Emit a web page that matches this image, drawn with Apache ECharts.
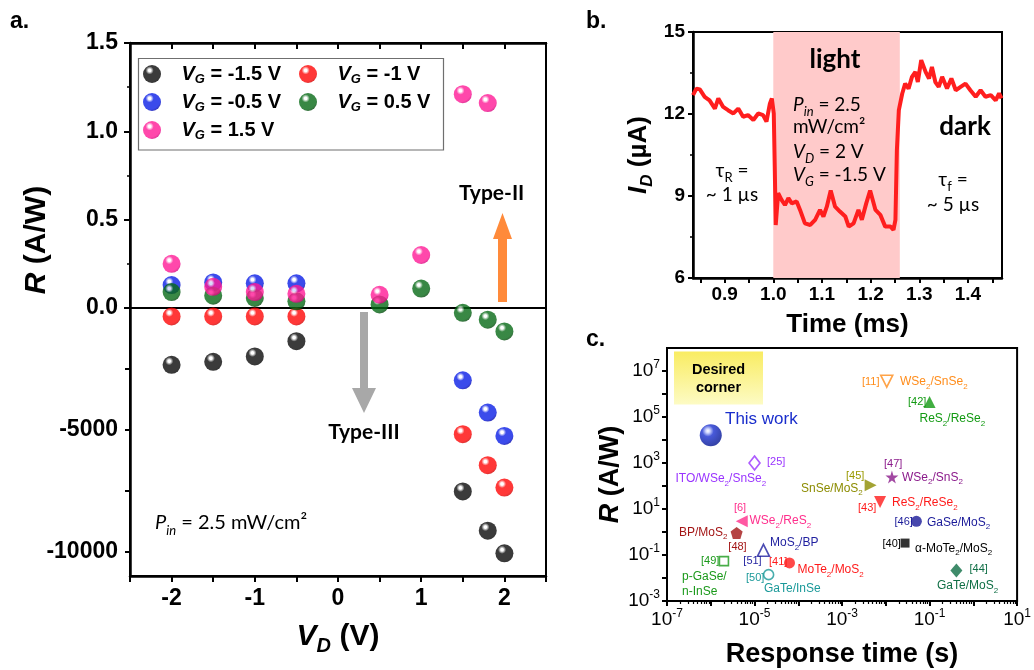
<!DOCTYPE html>
<html>
<head>
<meta charset="utf-8">
<script src="https://cdn.jsdelivr.net/npm/echarts@6/dist/echarts.min.js"></script>
<style>
html, body { margin: 0; padding: 0; background: #fff; }
#main { width: 1034px; height: 670px; }
</style>
</head>
<body>
<div id="main"></div>
<script>
var ARIAL = '"Liberation Sans", Arial, sans-serif'
var CAL = 'Lato, "Open Sans", sans-serif'

// a. responsivity vs drain voltage (upper part in A/W, lower part the large negative values)
var gateNames = ['VG = -1.5 V', 'VG = -1 V', 'VG = -0.5 V', 'VG = 0.5 V', 'VG = 1.5 V']
var upperM15 = []
var upperM10 = []
var upperM05 = [[-2, 0.13], [-1.5, 0.145], [-1, 0.14], [-0.5, 0.14]]
var upperP05 = [[-2, 0.09], [-1.5, 0.07], [-1, 0.057], [-0.5, 0.038], [0.5, 0.02], [1, 0.11]]
var upperP15 = [[-2, 0.25], [-1.5, 0.12], [-1, 0.09], [-0.5, 0.08], [0.5, 0.075], [1, 0.3], [1.5, 1.21], [1.8, 1.16]]
var lowerM15 = [[-2, -2330], [-1.5, -2210], [-1, -1990], [-0.5, -1360], [1.5, -7530], [1.8, -9140], [2, -10070]]
var lowerM10 = [[-2, -345], [-1.5, -345], [-1, -345], [-0.5, -345], [1.5, -5180], [1.8, -6450], [2, -7370]]
var lowerM05 = [[1.5, -2970], [1.8, -4290], [2, -5250]]
var lowerP05 = [[1.5, -200], [1.8, -480], [2, -960]]
var lowerP15 = []
var vdLabels = [-2, -1, 0, 1, 2]
var lowerLabels = [-10000, -5000]

// b. drain current transient
var timeMs = [0.835, 0.842, 0.849, 0.859, 0.869, 0.880, 0.887, 0.897, 0.907, 0.918,
    0.928, 0.938, 0.948, 0.959, 0.969, 0.979, 0.986, 0.993, 0.997, 1.001,
    1.003, 1.005, 1.010, 1.017, 1.024, 1.031, 1.038, 1.048, 1.055, 1.065,
    1.076, 1.086, 1.096, 1.103, 1.110, 1.118, 1.127, 1.137, 1.148, 1.155,
    1.165, 1.175, 1.182, 1.191, 1.199, 1.210, 1.220, 1.230, 1.241, 1.247,
    1.251, 1.254, 1.258, 1.265, 1.271, 1.278, 1.285, 1.292, 1.297, 1.304,
    1.313, 1.320, 1.326, 1.333, 1.340, 1.347, 1.357, 1.366, 1.375, 1.385,
    1.395, 1.405, 1.416, 1.426, 1.436, 1.447, 1.457, 1.464, 1.469]
var currentUA = [12.69, 12.93, 12.9, 12.63, 12.5, 12.2, 12.57, 12.26, 12.14, 12.02,
    12.2, 11.9, 11.96, 11.78, 12.02, 11.96, 11.72, 12.38, 12.57, 12.02,
    10.07, 7.94, 9.1, 8.86, 8.67, 8.92, 8.73, 8.8, 8.49, 8.0,
    7.94, 8.13, 8.49, 8.25, 8.61, 9.2, 8.61, 8.43, 8.25, 7.88,
    8.0, 8.49, 8.13, 8.73, 9.2, 8.49, 8.31, 7.88, 7.88, 7.76,
    8.13, 10.68, 12.14, 12.75, 13.11, 12.93, 13.36, 13.54, 13.17, 13.97,
    13.54, 13.3, 13.72, 13.17, 12.99, 13.36, 12.93, 13.3, 12.87, 12.99,
    13.11, 12.87, 12.63, 12.87, 12.63, 12.69, 12.5, 12.75, 12.57]
var lightOn = 1.0
var lightOff = 1.26
var timeLabels = [0.9, 1.0, 1.1, 1.2, 1.3, 1.4]
var timeTicks = [0.85, 0.9, 0.95, 1.0, 1.05, 1.1, 1.15, 1.2, 1.25, 1.3, 1.35, 1.4, 1.45]

// c. responsivity vs response time, this work and reported devices
var refTags = ['', '[25]', '[11]', '[42]', '[47]', '[45]', '[43]', '[46]', '[40]', '[44]', '[6]', '[48]', '[51]', '[41]', '[49]', '[50]']
var refTime = [1e-6, 1e-5, 0.0105, 0.1, 0.0138, 0.0045, 0.0074, 0.05, 0.0275, 0.41, 5.1e-6, 3.9e-6, 1.6e-5, 6.3e-5, 2e-6, 2.1e-5]
var refResp = [1.6e4, 1e3, 3.6e6, 4.5e5, 245, 107, 20, 2.9, 0.33, 0.021, 2.9, 0.9, 0.16, 0.045, 0.054, 0.014]
var logLabelsX = [1e-7, 1e-5, 1e-3, 1e-1, 1e1]
var logLabelsY = [1e-3, 1e-1, 1e1, 1e3, 1e5, 1e7]

var chart = echarts.init(document.getElementById('main'))

// shaded ball look of the markers
function ball(base, dark) {
    return new echarts.graphic.RadialGradient(0.37, 0.3, 0.75, [
        { offset: 0, color: '#ffffff' },
        { offset: 0.1, color: '#ffffff' },
        { offset: 0.3, color: base },
        { offset: 0.8, color: base },
        { offset: 1, color: dark }
    ])
}

var balls = [
    ball('#0a0a0a', '#000000'),
    ball('#ff0606', '#c80000'),
    ball('#0a1ee6', '#0000a0'),
    ball('#076a16', '#004008'),
    ball('#ff1a96', '#d0007a')
]
var uppers = [upperM15, upperM10, upperM05, upperP05, upperP15]
var lowers = [lowerM15, lowerM10, lowerM05, lowerP05, lowerP15]

var series = []
gateNames.forEach(function (name, i) {
    series.push({ type: 'scatter', name: name, xAxisIndex: 0, yAxisIndex: 0, data: uppers[i],
        symbol: 'circle', symbolSize: 18, itemStyle: { color: balls[i] }, silent: true })
    series.push({ type: 'scatter', name: name, xAxisIndex: 1, yAxisIndex: 1, data: lowers[i],
        symbol: 'circle', symbolSize: 18, itemStyle: { color: balls[i] }, silent: true })
})

series.push({
    type: 'line', xAxisIndex: 2, yAxisIndex: 2, showSymbol: false, silent: true,
    data: timeMs.map(function (t, i) { return [t, currentUA[i]] }),
    lineStyle: { color: '#ff1e1e', width: 4 },
    markArea: { silent: true, itemStyle: { color: '#ffcaca' }, data: [[{ xAxis: lightOn }, { xAxis: lightOff }]] }
})

var STAR = 'path://M50,0 L61,35 L98,35 L68,57 L79,91 L50,70 L21,91 L32,57 L2,35 L39,35 Z'
var PENTA = 'path://M50,0 L98,36 L80,95 L20,95 L2,36 Z'
var refStyle = [
    { sym: 'circle', c: '#1428c8', size: 22, ball: true },
    { sym: 'diamond', c: '#9933ff', size: [11, 14], hollow: true },
    { sym: 'triangle', c: '#ff8c1a', size: 12, rot: 180, hollow: true },
    { sym: 'triangle', c: '#129a12', size: 12 },
    { sym: STAR, c: '#8b1a8b', size: 13 },
    { sym: 'triangle', c: '#8c8c00', size: 12, rot: -90 },
    { sym: 'triangle', c: '#ff1a1a', size: 12, rot: 180 },
    { sym: 'circle', c: '#1a1a99', size: 11 },
    { sym: 'rect', c: '#000000', size: 9 },
    { sym: 'diamond', c: '#0f6e45', size: [12, 14] },
    { sym: 'triangle', c: '#ff2e8c', size: 12, rot: 90 },
    { sym: PENTA, c: '#a31515', size: 12 },
    { sym: 'triangle', c: '#1f1f9f', size: 12, hollow: true },
    { sym: 'circle', c: '#ff1a1a', size: 11 },
    { sym: 'rect', c: '#1a991a', size: 9, hollow: true },
    { sym: 'circle', c: '#1a9999', size: 10, hollow: true }
]
refTime.forEach(function (t, i) {
    var s = refStyle[i]
    var st = s.ball ? { color: new echarts.graphic.RadialGradient(0.37, 0.3, 0.75, [
            { offset: 0, color: '#ffffff' }, { offset: 0.12, color: '#c8d0ff' },
            { offset: 0.35, color: '#1a30d0' }, { offset: 1, color: '#00108a' }]) }
        : s.hollow ? { color: '#ffffff', borderColor: s.c, borderWidth: 1.6 }
        : { color: s.c }
    series.push({ type: 'scatter', name: refTags[i], xAxisIndex: 3, yAxisIndex: 3, silent: true,
        data: [[t, refResp[i]]], symbol: s.sym, symbolSize: s.size, symbolRotate: s.rot || 0, itemStyle: st })
})

function rt(size, weight, style, family) {
    return { fontSize: size, fontWeight: weight || 'normal', fontStyle: style || 'normal', fontFamily: family || ARIAL, color: '#000' }
}

function boldAxis(extra) {
    return Object.assign({ onZero: false, lineStyle: { color: '#000', width: 2.5 } }, extra || {})
}

var blackTick = { color: '#000', width: 2 }

var xAxis = [
    { gridIndex: 0, type: 'value', position: 'top', min: -2.5, max: 2.5, interval: 0.5,
        axisLine: boldAxis(), axisTick: { inside: true, length: 6, lineStyle: blackTick },
        axisLabel: { show: false }, splitLine: { show: false } },
    { gridIndex: 1, type: 'value', position: 'bottom', min: -2.5, max: 2.5, interval: 0.5,
        axisLine: boldAxis(), axisTick: { length: 6, lineStyle: blackTick },
        axisLabel: Object.assign(rt(23, 'bold'), { customValues: vdLabels, margin: 11 }),
        splitLine: { show: false },
        name: '{v|V}{d|D}{t| (V)}', nameLocation: 'middle', nameGap: 42,
        nameTextStyle: { rich: {
            v: Object.assign(rt(30, 'bold', 'italic'), { lineHeight: 38 }),
            d: Object.assign(rt(20, 'bold', 'italic'), { verticalAlign: 'bottom' }),
            t: Object.assign(rt(30, 'bold'), { lineHeight: 38 }) } } },
    { gridIndex: 2, type: 'value', min: 0.835, max: 1.47,
        axisLine: boldAxis(), axisTick: { customValues: timeTicks, length: 5, lineStyle: blackTick },
        axisLabel: Object.assign(rt(19, 'bold'), { customValues: timeLabels, margin: 7,
            formatter: function (v) { return v.toFixed(1) } }),
        splitLine: { show: false },
        name: 'Time (ms)', nameLocation: 'middle', nameGap: 34, nameTextStyle: rt(26, 'bold') },
    { gridIndex: 3, type: 'log', logBase: 10, min: 1e-7, max: 10,
        axisLine: boldAxis({ lineStyle: { color: '#000', width: 2 } }),
        axisTick: { customValues: [1e-7, 1e-6, 1e-5, 1e-4, 1e-3, 1e-2, 1e-1, 1, 10], length: 5, lineStyle: blackTick },
        axisLabel: { customValues: logLabelsX, margin: 7, formatter: function (v) {
            return '{b|10}{s|' + Math.round(Math.log10(v)) + '}' },
            rich: { b: Object.assign(rt(19), { lineHeight: 24 }), s: Object.assign(rt(12), { verticalAlign: 'top' }) } },
        splitLine: { show: false },
        name: 'Response time (s)', nameLocation: 'middle', nameGap: 40, nameTextStyle: rt(27, 'bold') },
    { gridIndex: 3, type: 'log', logBase: 10, min: 1e-7, max: 10, position: 'bottom',
        axisLine: { show: false },
        axisTick: { customValues: (function () {
            var v = []
            for (var e = -7; e < 1; e++) for (var m = 2; m < 10; m++) v.push(m * Math.pow(10, e))
            return v
        })(), length: 3, lineStyle: { color: '#000', width: 1.2 } },
        axisLabel: { show: false }, splitLine: { show: false } }
]

var yAxis = [
    { gridIndex: 0, type: 'value', min: 0, max: 1.5, interval: 0.5,
        axisLine: boldAxis(), axisTick: { length: 6, lineStyle: blackTick },
        minorTick: { show: true, splitNumber: 2, length: 3, lineStyle: { color: '#000', width: 1.5 } },
        axisLabel: Object.assign(rt(23, 'bold'), { margin: 12, formatter: function (v) { return v.toFixed(1) } }),
        splitLine: { show: false }, minorSplitLine: { show: false } },
    { gridIndex: 1, type: 'value', min: -11000, max: 0,
        axisLine: boldAxis(), axisTick: { customValues: [-10000, -7500, -5000, -2500], length: 5, lineStyle: blackTick },
        axisLabel: Object.assign(rt(23, 'bold'), { customValues: lowerLabels, margin: 12,
            formatter: function (v) { return String(v) } }),
        splitLine: { show: false } },
    { gridIndex: 2, type: 'value', min: 6, max: 15, interval: 3,
        axisLine: boldAxis(), axisTick: { length: 5, lineStyle: blackTick },
        minorTick: { show: true, splitNumber: 2, length: 3, lineStyle: { color: '#000', width: 1.5 } },
        axisLabel: Object.assign(rt(19, 'bold'), { margin: 8 }),
        splitLine: { show: false }, minorSplitLine: { show: false },
        name: '{i|I}{d|D}{t| (µA)}', nameLocation: 'middle', nameGap: 37,
        nameTextStyle: { rich: {
            i: Object.assign(rt(26, 'bold', 'italic'), { lineHeight: 34 }),
            d: Object.assign(rt(17, 'bold', 'italic'), { verticalAlign: 'bottom' }),
            t: Object.assign(rt(26, 'bold'), { lineHeight: 34 }) } } },
    { gridIndex: 3, type: 'log', logBase: 10, min: 1e-3, max: 1e8,
        axisLine: boldAxis({ lineStyle: { color: '#000', width: 2 } }),
        axisTick: { customValues: [1e-3, 1e-2, 1e-1, 1, 10, 100, 1e3, 1e4, 1e5, 1e6, 1e7], length: 5, lineStyle: blackTick },
        axisLabel: { customValues: logLabelsY, margin: 7, formatter: function (v) {
            return '{b|10}{s|' + Math.round(Math.log10(v)) + '}' },
            rich: { b: Object.assign(rt(19), { lineHeight: 24 }), s: Object.assign(rt(12), { verticalAlign: 'top' }) } },
        splitLine: { show: false },
        name: '{i|R}{t| (A/W)}', nameLocation: 'middle', nameGap: 42,
        nameTextStyle: { rich: { i: rt(27, 'bold', 'italic'), t: rt(27, 'bold') } } }
]

var gridBox = { show: true, borderColor: '#000', borderWidth: 2, backgroundColor: 'transparent' }
var grid = [
    Object.assign({ left: 130, top: 43, width: 416, height: 265 }, gridBox),
    Object.assign({ left: 130, top: 308, width: 416, height: 268 }, gridBox),
    Object.assign({ left: 693, top: 32, width: 309, height: 246 }, gridBox),
    Object.assign({ left: 667, top: 348, width: 353, height: 253 }, gridBox)
]

var legendRich = {
    v: Object.assign(rt(20, 'bold', 'italic'), { lineHeight: 24 }),
    g: Object.assign(rt(13, 'bold', 'italic'), { verticalAlign: 'bottom' }),
    t: Object.assign(rt(20, 'bold'), { lineHeight: 24 })
}
function legendText(name) {
    return '{v|V}{g|G}{t|' + name.replace('VG', '') + '}'
}
var legendBase = { orient: 'vertical', top: 59, itemWidth: 49, itemHeight: 18, itemGap: 6, icon: 'circle',
    selectedMode: false, formatter: legendText, textStyle: { rich: legendRich } }
var legend = [
    Object.assign({ left: 138, data: [gateNames[0], gateNames[2], gateNames[4]] }, legendBase),
    Object.assign({ left: 294, data: [gateNames[1], gateNames[3]] }, legendBase)
]

// text annotations
function txt(x, y, text, o) {
    o = o || {}
    var size = o.size || 12
    var fam = o.family || ARIAL
    var fill = o.color || '#000'
    var w = o.weight || 'normal'
    return {
        type: 'text', x: x, y: y, z: 20, rotation: o.rotation || 0,
        style: {
            text: text, fill: fill, fontFamily: fam, fontSize: size, fontWeight: w,
            lineHeight: o.lh || Math.round(size * 1.4),
            textAlign: o.align || 'left', textVerticalAlign: 'middle',
            rich: {
                i: { fontFamily: fam, fontSize: size, fontWeight: w, fontStyle: 'italic', fill: fill },
                s: { fontFamily: fam, fontSize: Math.round(size * 0.66), fontWeight: w, fill: fill, verticalAlign: 'bottom' },
                si: { fontFamily: fam, fontSize: Math.round(size * 0.66), fontWeight: w, fontStyle: 'italic', fill: fill, verticalAlign: 'bottom' }
            }
        }
    }
}
function chem(x, y, text, color, size, align) {
    return txt(x, y, text.replace(/_(\d)/g, '{s|$1}'), { color: color, size: size || 12, align: align, lh: 17 })
}

var graphic = [
    txt(10, 22, 'a.', { size: 23, weight: 'bold' }),
    txt(586, 22, 'b.', { size: 23, weight: 'bold' }),
    txt(586, 340, 'c.', { size: 23, weight: 'bold' }),
    txt(37, 240, '{i|R} (A/W)', { size: 30, weight: 'bold', align: 'center', rotation: Math.PI / 2 }),
    { type: 'rect', z: 5, shape: { x: 138.5, y: 58.5, width: 305, height: 91.5 },
        style: { fill: 'none', stroke: '#6f6f6f', lineWidth: 1.2 } },
    { type: 'polygon', z: 6, shape: { points: [[498, 302], [507, 302], [507, 239], [512, 239], [502.5, 213], [493, 239], [498, 239]] },
        style: { fill: '#ff8a3a' } },
    { type: 'polygon', z: 6, shape: { points: [[360, 312], [368, 312], [368, 388], [376, 388], [364, 413], [352, 388], [360, 388]] },
        style: { fill: '#a8a8a8' } },
    txt(459, 193, 'Type-II', { size: 21, weight: 'bold', family: CAL }),
    txt(364, 432, 'Type-III', { size: 21, weight: 'bold', family: CAL, align: 'center' }),
    txt(155, 523, '{i|P}{si|in} = 2.5 mW/cm²', { size: 20, family: CAL, lh: 28 }),

    txt(835, 60, 'light', { size: 26, weight: 'bold', family: CAL, align: 'center' }),
    txt(793, 105, '{i|P}{si|in} = 2.5', { size: 19, family: CAL, lh: 26 }),
    txt(793, 127, 'mW/cm²', { size: 19, family: CAL }),
    txt(793, 152, '{i|V}{si|D} = 2 V', { size: 19, family: CAL, lh: 26 }),
    txt(793, 175, '{i|V}{si|G} = -1.5 V', { size: 19, family: CAL, lh: 26 }),
    txt(965, 127, 'dark', { size: 26, weight: 'bold', family: CAL, align: 'center' }),
    txt(732, 171, 'τ{s|R} =', { size: 19, family: CAL, align: 'center', lh: 26 }),
    txt(732, 195, '~ 1 µs', { size: 19, family: CAL, align: 'center' }),
    txt(953, 180, 'τ{s|f} =', { size: 19, family: CAL, align: 'center', lh: 26 }),
    txt(953, 205, '~ 5 µs', { size: 19, family: CAL, align: 'center' }),

    { type: 'rect', z: 1, shape: { x: 674, y: 351.5, width: 89, height: 53 },
        style: { fill: new echarts.graphic.LinearGradient(0, 0, 0, 1, [
            { offset: 0, color: '#f9ec62' }, { offset: 1, color: '#fdfbc4' }]) } },
    txt(718.5, 370, 'Desired', { size: 14.5, weight: 'bold', align: 'center' }),
    txt(718.5, 388, 'corner', { size: 14.5, weight: 'bold', align: 'center' }),
    txt(725, 419, 'This work', { size: 17, color: '#1a2ecc' }),
    chem(767, 461.5, '[25]', '#9933ff', 11),
    chem(675.5, 479, 'ITO/WSe_2/SnSe_2', '#9933ff'),
    chem(862, 381.5, '[11]', '#ff8c1a', 11),
    chem(900, 382, 'WSe_2/SnSe_2', '#ff8c1a'),
    chem(908, 402, '[42]', '#129a12', 11),
    chem(919.5, 419, 'ReS_2/ReSe_2', '#129a12'),
    chem(884, 464, '[47]', '#8b1a8b', 11),
    chem(902, 477.5, 'WSe_2/SnS_2', '#8b1a8b'),
    chem(846, 475.5, '[45]', '#999900', 11),
    chem(801, 488.5, 'SnSe/MoS_2', '#8c8c00'),
    chem(858, 507.5, '[43]', '#ff1a1a', 11),
    chem(892, 503, 'ReS_2/ReSe_2', '#ff1a1a'),
    chem(894.5, 522, '[46]', '#1a1a99', 11),
    chem(927, 522.5, 'GaSe/MoS_2', '#1a1a99'),
    chem(882.5, 543.5, '[40]', '#000000', 11),
    chem(915, 548.5, 'α-MoTe_2/MoS_2', '#000000'),
    chem(969.5, 569, '[44]', '#0f6e45', 11),
    chem(937, 586, 'GaTe/MoS_2', '#0f6e45'),
    chem(740, 507.5, '[6]', '#ff2e8c', 11, 'center'),
    chem(749.5, 521, 'WSe_2/ReS_2', '#ff2e8c'),
    chem(679, 532.5, 'BP/MoS_2', '#a31515'),
    chem(737.5, 547, '[48]', '#a31515', 11, 'center'),
    chem(770, 543, 'MoS_2/BP', '#1f1f9f'),
    chem(752.5, 561, '[51]', '#1f1f9f', 11, 'center'),
    chem(769, 562, '[41]', '#ff1a1a', 11),
    chem(797.5, 570, 'MoTe_2/MoS_2', '#ff1a1a'),
    chem(701, 561, '[49]', '#1a991a', 11),
    chem(682, 577, 'p-GaSe/', '#1a991a'),
    chem(682, 592, 'n-InSe', '#1a991a'),
    chem(746, 578, '[50]', '#1a9999', 11),
    chem(764, 588.5, 'GaTe/InSe', '#1a9999')
]

chart.setOption({
    animation: false,
    backgroundColor: '#ffffff',
    grid: grid,
    xAxis: xAxis,
    yAxis: yAxis,
    legend: legend,
    series: series,
    graphic: graphic
})
</script>
</body>
</html>
